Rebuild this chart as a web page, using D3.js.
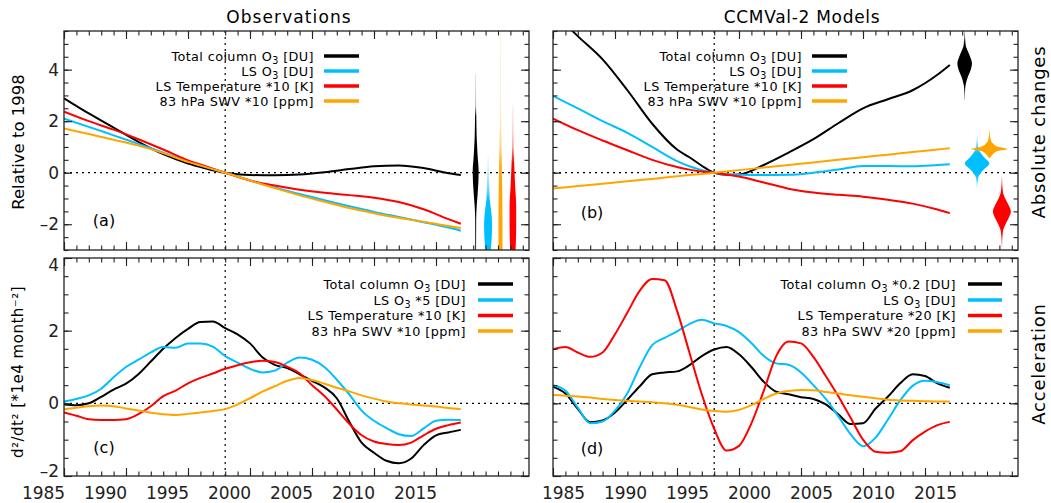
<!DOCTYPE html>
<html>
<head>
<meta charset="utf-8">
<script src="https://cdn.jsdelivr.net/npm/d3@7"></script>
<style>
  body { margin: 0; background: #fff; }
  svg { font-family: "DejaVu Sans", sans-serif; }
</style>
</head>
<body>
<div id="chart"></div>
<script>
// ---- data ----

// x range and ticks
const xDomain = [1985, 2022.5];
const xTickValues = [1985, 1990, 1995, 2000, 2005, 2010, 2015];
const yTickValues = [-2, 0, 2, 4];

// absolute changes (panels a, b)
const yearsAbs = [1985, 1987, 1989, 1991, 1993, 1995, 1996, 1997, 1998, 1999, 2000, 2002, 2004, 2006, 2008, 2010, 2012, 2014, 2016, 2017];
const obsAbsTotal = [2.89, 2.3, 1.75, 1.2, 0.72, 0.36, 0.22, 0.09, 0, -0.06, -0.09, -0.1, -0.07, 0.02, 0.14, 0.25, 0.28, 0.18, -0.02, -0.09];
const obsAbsLsO3  = [2.1, 1.78, 1.45, 1.12, 0.78, 0.44, 0.29, 0.14, 0, -0.15, -0.3, -0.57, -0.83, -1.07, -1.3, -1.52, -1.72, -1.92, -2.13, -2.25];
const obsAbsTemp  = [2.37, 2.0, 1.67, 1.3, 0.9, 0.48, 0.32, 0.16, 0, -0.16, -0.3, -0.5, -0.66, -0.78, -0.87, -0.97, -1.14, -1.42, -1.8, -1.98];
const obsAbsSwv   = [1.72, 1.5, 1.28, 1.05, 0.76, 0.42, 0.28, 0.14, 0, -0.15, -0.3, -0.6, -0.88, -1.13, -1.37, -1.57, -1.75, -1.9, -2.07, -2.15];

const modAbsTotal = [6.25, 5.3, 4.4, 3.2, 1.9, 0.9, 0.6, 0.27, 0, -0.08, -0.07, 0.3, 0.78, 1.3, 1.92, 2.5, 2.85, 3.2, 3.8, 4.18];
const modAbsLsO3  = [2.98, 2.5, 2.0, 1.55, 1.0, 0.45, 0.25, 0.1, 0, -0.06, -0.08, -0.09, -0.08, 0.0, 0.12, 0.26, 0.26, 0.25, 0.3, 0.33];
const modAbsTemp  = [2.1, 1.65, 1.25, 0.87, 0.5, 0.22, 0.12, 0.05, 0, -0.07, -0.15, -0.38, -0.62, -0.77, -0.86, -0.93, -1.05, -1.2, -1.43, -1.57];
const modAbsSwv   = [-0.61, -0.52, -0.43, -0.33, -0.24, -0.14, -0.09, -0.05, 0, 0.05, 0.1, 0.2, 0.3, 0.4, 0.5, 0.6, 0.7, 0.8, 0.9, 0.95];

// acceleration (panels c, d)
const yearsAcc = [1985, 1986, 1987, 1988, 1989, 1990, 1991, 1992, 1993, 1994, 1995, 1996, 1997, 1998, 1999, 2000, 2001,
                  2002, 2003, 2004, 2005, 2006, 2007, 2008, 2009, 2010, 2011, 2012, 2013, 2014, 2015, 2016, 2017];
const obsAccTotal = [-0.03, -0.05, 0.0, 0.18, 0.38, 0.54, 0.8, 1.15, 1.5, 1.8, 2.05, 2.24, 2.25, 2.07, 1.9, 1.65, 1.27,
                     1.06, 0.97, 0.8, 0.62, 0.44, 0.14, -0.5, -1.08, -1.36, -1.58, -1.65, -1.52, -1.15, -0.88, -0.8, -0.73];
const obsAccLsO3  = [0.05, 0.12, 0.22, 0.4, 0.72, 1.0, 1.2, 1.4, 1.55, 1.53, 1.65, 1.65, 1.56, 1.3, 1.12, 0.95, 0.85,
                     0.9, 1.12, 1.26, 1.2, 1.0, 0.65, 0.25, -0.2, -0.48, -0.68, -0.85, -0.9, -0.69, -0.48, -0.45, -0.46];
const obsAccTemp  = [-0.25, -0.34, -0.44, -0.46, -0.46, -0.44, -0.3, -0.08, 0.2, 0.35, 0.55, 0.7, 0.82, 0.95, 1.05, 1.13, 1.17,
                     1.14, 1.01, 0.83, 0.5, 0.2, -0.17, -0.56, -0.88, -1.05, -1.12, -1.15, -1.08, -0.88, -0.7, -0.6, -0.53];
const obsAccSwv   = [-0.16, -0.12, -0.08, -0.06, -0.08, -0.14, -0.2, -0.26, -0.3, -0.32, -0.29, -0.25, -0.21, -0.16, -0.03, 0.14, 0.32,
                     0.47, 0.62, 0.7, 0.64, 0.54, 0.43, 0.33, 0.22, 0.13, 0.05, 0.0, -0.03, -0.06, -0.09, -0.13, -0.16];

const modAccTotal = [0.46, 0.27, -0.15, -0.52, -0.47, -0.25, 0.1, 0.47, 0.8, 0.85, 0.88, 1.05, 1.3, 1.48, 1.55, 1.35, 1.0,
                     0.59, 0.32, 0.25, 0.17, 0.12, -0.03, -0.3, -0.57, -0.55, -0.15, 0.18, 0.55, 0.8, 0.75, 0.55, 0.43];
const modAccLsO3  = [0.5, 0.35, -0.12, -0.55, -0.5, -0.2, 0.28, 1.0, 1.6, 1.8, 1.98, 2.18, 2.3, 2.2, 2.13, 1.96, 1.66,
                     1.3, 1.1, 1.06, 0.85, 0.5, 0.12, -0.35, -0.85, -1.18, -0.95, -0.45, 0.08, 0.48, 0.62, 0.58, 0.5];
const modAccTemp  = [1.49, 1.55, 1.4, 1.28, 1.4, 1.9, 2.5, 3.1, 3.42, 3.39, 2.55, 1.4, 0.25, -0.7, -1.3, -1.17, -0.55,
                     0.35, 1.3, 1.7, 1.65, 1.28, 0.75, 0.2, -0.4, -1.0, -1.33, -1.36, -1.32, -1.02, -0.78, -0.6, -0.51];
const modAccSwv   = [0.23, 0.21, 0.19, 0.16, 0.12, 0.09, 0.07, 0.05, 0.03, 0.0, -0.04, -0.1, -0.17, -0.21, -0.23, -0.18, -0.05,
                     0.12, 0.27, 0.34, 0.37, 0.36, 0.31, 0.27, 0.22, 0.18, 0.14, 0.1, 0.08, 0.07, 0.06, 0.05, 0.05];

// trend distributions at the right of panels a and b: [value, density, opacity]
const violinYears = [2018.2, 2019.2, 2020.2, 2021.2];   // black, blue, orange, red
const obsViolinTotal = [[3.85, 0.015, 0.15], [2.6, 0.02, 0.35], [2.2, 0.03, 1], [1.4, 0.05, 1], [0.76, 0.09, 1], [0, 0.15, 1], [-0.8, 0.1, 1], [-1.3, 0.05, 1], [-1.8, 0.025, 1], [-3, 0.02, 1]];
const obsViolinLsO3  = [[0.7, 0.01, 0.15], [0, 0.04, 0.25], [-0.67, 0.065, 0.6], [-1.06, 0.085, 1], [-1.45, 0.15, 1], [-1.97, 0.2, 1], [-2.48, 0.185, 1], [-3, 0.135, 1]];
const obsViolinSwv   = [[5.5, 0.02, 0.15], [2.4, 0.025, 0.2], [1.0, 0.05, 0.5], [0.36, 0.065, 0.9], [-0.54, 0.085, 1], [-1.84, 0.1, 1], [-3, 0.1, 1]];
const obsViolinTemp  = [[2.65, 0.015, 0.12], [1.6, 0.03, 0.25], [1.0, 0.035, 0.45], [0.36, 0.065, 1], [-0.54, 0.115, 1], [-1.3, 0.165, 1], [-2.1, 0.165, 1], [-3, 0.135, 1]];

const modViolinTotal = [[5.48, 0.01, 0.5], [4.96, 0.05, 1], [4.7, 0.165, 1], [4.44, 0.3, 1], [4.25, 0.365, 1], [3.99, 0.3, 1], [3.73, 0.165, 1], [3.47, 0.065, 1], [3.28, 0.025, 1], [2.82, 0.01, 0.5]];
const modViolinLsO3  = [[1.46, 0.01, 0.3], [0.95, 0.05, 0.8], [0.75, 0.2, 1], [0.56, 0.4, 1], [0.36, 0.615, 1], [0.17, 0.4, 1], [-0.03, 0.165, 1], [-0.22, 0.05, 0.8], [-0.61, 0.01, 0.3]];
const modViolinSwv   = [[1.62, 0.01, 0.8], [1.27, 0.065, 1], [1.14, 0.165, 1], [1.01, 0.415, 1], [0.92, 0.915, 1], [0.84, 0.415, 1], [0.71, 0.165, 1], [0.56, 0.01, 1]];
const modViolinTemp  = [[-0.15, 0.01, 0.4], [-0.74, 0.05, 1], [-1.0, 0.165, 1], [-1.25, 0.335, 1], [-1.51, 0.45, 1], [-1.77, 0.335, 1], [-2.03, 0.165, 1], [-2.29, 0.05, 1], [-2.87, 0.01, 0.5]];

// legend texts ("_3" = subscript)
const legendA = ["Total column O_3 [DU]", "LS O_3 [DU]", "LS Temperature *10 [K]", "83 hPa SWV *10 [ppm]"];
const legendB = ["Total column O_3 [DU]", "LS O_3 [DU]", "LS Temperature *10 [K]", "83 hPa SWV *10 [ppm]"];
const legendC = ["Total column O_3 [DU]", "LS O_3 *5 [DU]", "LS Temperature *10 [K]", "83 hPa SWV *10 [ppm]"];
const legendD = ["Total column O_3 *0.2 [DU]", "LS O_3 [DU]", "LS Temperature *20 [K]", "83 hPa SWV *20 [ppm]"];

// ---- drawing ----
const black = "#000000", blue = "#00bfff", red = "#ff0000", orange = "#ffa500";
const legendColors = [black, blue, red, orange];
const violinColors = [black, blue, orange, red];

const svg = d3.select("#chart")
  .append("svg")
    .attr("width", 1051)
    .attr("height", 503);

const panels = [
  { name: "a", left: 64, right: 529, top: 31, bottom: 250, yDomain: [-3, 5.5], years: yearsAbs,
    series: [obsAbsTotal, obsAbsLsO3, obsAbsTemp, obsAbsSwv], violins: [obsViolinTotal, obsViolinLsO3, obsViolinSwv, obsViolinTemp],
    legend: legendA, legendX: 314, lineX: [324, 359], rows: [56, 71, 86, 101], tag: "(a)", tagPos: [104, 220],
    yLabels: true, xLabels: false },
  { name: "b", left: 553, right: 1018, top: 31, bottom: 250, yDomain: [-3, 5.5], years: yearsAbs,
    series: [modAbsTotal, modAbsLsO3, modAbsTemp, modAbsSwv], violins: [modViolinTotal, modViolinLsO3, modViolinSwv, modViolinTemp],
    legend: legendB, legendX: 802, lineX: [812, 847], rows: [56, 71, 86, 101], tag: "(b)", tagPos: [592, 212],
    yLabels: false, xLabels: false },
  { name: "c", left: 64, right: 529, top: 258, bottom: 476, yDomain: [-2, 4], years: yearsAcc,
    series: [obsAccTotal, obsAccLsO3, obsAccTemp, obsAccSwv], violins: [],
    legend: legendC, legendX: 466, lineX: [478, 513], rows: [284, 300, 315.5, 331], tag: "(c)", tagPos: [104, 447],
    yLabels: true, xLabels: true, labelShift: -21 },
  { name: "d", left: 553, right: 1018, top: 258, bottom: 476, yDomain: [-2, 4], years: yearsAcc,
    series: [modAccTotal, modAccLsO3, modAccTemp, modAccSwv], violins: [],
    legend: legendD, legendX: 956, lineX: [968, 1002], rows: [284, 300, 315.5, 331], tag: "(d)", tagPos: [592, 448],
    yLabels: false, xLabels: true, labelShift: 10 }
];

function richText(sel, str) {
  str.split(/(_\d)/).forEach(function(part) {
    if (!part) return;
    if (part[0] === "_") {
      sel.append("tspan").attr("baseline-shift", "-25%").attr("font-size", "75%").text(part.slice(1));
    } else {
      sel.append("tspan").text(part);
    }
  });
}

const fmt = d => d < 0 ? "\u2013" + Math.abs(d) : String(d);

panels.forEach(function(p) {
  const x = d3.scaleLinear().domain(xDomain).range([p.left, p.right]);
  const y = d3.scaleLinear().domain(p.yDomain).range([p.bottom, p.top]);
  const w = d3.scaleLinear().domain([0, 1]).range([0, 20]);

  svg.append("clipPath").attr("id", "clip-" + p.name)
    .append("rect")
      .attr("x", p.left).attr("y", p.top)
      .attr("width", p.right - p.left).attr("height", p.bottom - p.top);

  const plot = svg.append("g").attr("clip-path", `url(#clip-${p.name})`);

  // dotted reference lines
  plot.append("line")
    .attr("x1", p.left).attr("x2", p.right)
    .attr("y1", y(0)).attr("y2", y(0))
    .attr("stroke", "#000").attr("stroke-width", 1.2).attr("stroke-dasharray", "2,4");
  plot.append("line")
    .attr("x1", x(1998)).attr("x2", x(1998))
    .attr("y1", p.top).attr("y2", p.bottom)
    .attr("stroke", "#000").attr("stroke-width", 1.2).attr("stroke-dasharray", "2,4");

  // violins
  p.violins.forEach(function(v, i) {
    const cx = x(violinYears[i]);
    const gid = "grad-" + p.name + i;
    const y1 = y(v[0][0]), y2 = y(v[v.length - 1][0]);
    const grad = svg.append("defs").append("linearGradient")
      .attr("id", gid).attr("gradientUnits", "userSpaceOnUse")
      .attr("x1", 0).attr("x2", 0).attr("y1", y1).attr("y2", y2);
    v.forEach(function(d) {
      grad.append("stop")
        .attr("offset", (y(d[0]) - y1) / (y2 - y1))
        .attr("stop-color", violinColors[i])
        .attr("stop-opacity", d[2]);
    });
    const area = d3.area()
      .curve(d3.curveMonotoneY)
      .y(d => y(d[0]))
      .x0(d => cx - w(d[1]))
      .x1(d => cx + w(d[1]));
    plot.append("path").datum(v).attr("d", area).attr("fill", `url(#${gid})`);
  });

  // series lines
  const line = d3.line()
    .curve(d3.curveMonotoneX)
    .x(d => x(d[0]))
    .y(d => y(d[1]));
  p.series.forEach(function(vals, k) {
    plot.append("path")
      .datum(vals.map((v, j) => [p.years[j], v]))
      .attr("d", line)
      .attr("fill", "none")
      .attr("stroke", legendColors[k])
      .attr("stroke-width", 2);
  });

  // axes (ticks inward on all four sides)
  const yMinor = d3.range(p.yDomain[0], p.yDomain[1] + 0.01, 0.5);
  const xMinor = d3.range(1985, 2023, 1);

  function styleAxis(g) {
    g.select(".domain").remove();
    g.attr("color", "#222").attr("font-family", "DejaVu Sans, sans-serif").attr("font-size", 17);
    g.selectAll("line").attr("stroke-width", 1.1);
  }

  svg.append("g").attr("transform", `translate(0,${p.bottom})`)
    .call(d3.axisBottom(x).tickValues(xMinor).tickSize(-4.5).tickFormat("")).call(styleAxis);
  const bottomAxis = svg.append("g").attr("transform", `translate(0,${p.bottom})`)
    .call(d3.axisBottom(x).tickValues(xTickValues).tickSize(-8).tickPadding(11)
      .tickFormat(p.xLabels ? d3.format("d") : ""))
    .call(styleAxis);
  bottomAxis.selectAll("text").attr("dx", p.labelShift || 0);

  svg.append("g").attr("transform", `translate(0,${p.top})`)
    .call(d3.axisTop(x).tickValues(xMinor).tickSize(-4.5).tickFormat("")).call(styleAxis);
  svg.append("g").attr("transform", `translate(0,${p.top})`)
    .call(d3.axisTop(x).tickValues(xTickValues).tickSize(-8).tickFormat("")).call(styleAxis);

  svg.append("g").attr("transform", `translate(${p.left},0)`)
    .call(d3.axisLeft(y).tickValues(yMinor).tickSize(-4.5).tickFormat("")).call(styleAxis);
  const leftAxis = svg.append("g").attr("transform", `translate(${p.left},0)`)
    .call(d3.axisLeft(y).tickValues(yTickValues).tickSize(-8).tickPadding(5)
      .tickFormat(p.yLabels ? fmt : ""))
    .call(styleAxis);
  // labels sitting on the frame corners are pulled inside, as in the original
  leftAxis.selectAll("text")
    .attr("dy", d => d === p.yDomain[1] ? "0.75em" : d === p.yDomain[0] ? "0.05em" : "0.32em");

  svg.append("g").attr("transform", `translate(${p.right},0)`)
    .call(d3.axisRight(y).tickValues(yMinor).tickSize(-4.5).tickFormat("")).call(styleAxis);
  svg.append("g").attr("transform", `translate(${p.right},0)`)
    .call(d3.axisRight(y).tickValues(yTickValues).tickSize(-8).tickFormat("")).call(styleAxis);

  // frame
  svg.append("rect")
    .attr("x", p.left).attr("y", p.top)
    .attr("width", p.right - p.left).attr("height", p.bottom - p.top)
    .attr("fill", "none").attr("stroke", "#222").attr("stroke-width", 1.3);

  // legend
  p.legend.forEach(function(label, i) {
    const t = svg.append("text")
      .attr("x", p.legendX).attr("y", p.rows[i] + 4.7)
      .attr("text-anchor", "end")
      .attr("font-size", 12.8)
      .attr("letter-spacing", 0.4)
      .attr("fill", "#000");
    richText(t, label);
    svg.append("line")
      .attr("x1", p.lineX[0]).attr("x2", p.lineX[1])
      .attr("y1", p.rows[i]).attr("y2", p.rows[i])
      .attr("stroke", legendColors[i]).attr("stroke-width", 3.5);
  });

  // panel tag
  svg.append("text")
    .attr("x", p.tagPos[0]).attr("y", p.tagPos[1])
    .attr("text-anchor", "middle").attr("dominant-baseline", "central")
    .attr("font-size", 16)
    .text(p.tag);
});

// titles and side labels
svg.append("text").attr("x", 289).attr("y", 17).attr("text-anchor", "middle").attr("dominant-baseline", "central")
  .attr("font-size", 17).attr("letter-spacing", 1.1).text("Observations");
svg.append("text").attr("x", 802).attr("y", 17).attr("text-anchor", "middle").attr("dominant-baseline", "central")
  .attr("font-size", 17).attr("letter-spacing", 0.7).text("CCMVal-2 Models");

function sideLabel(txt, cx, cy, size, spacing) {
  svg.append("text")
    .attr("transform", `translate(${cx},${cy}) rotate(-90)`)
    .attr("text-anchor", "middle").attr("dominant-baseline", "central")
    .attr("font-size", size).attr("letter-spacing", spacing)
    .text(txt);
}
sideLabel("Relative to 1998", 18, 142, 16.5, 0);
sideLabel("d\u00b2/dt\u00b2 [*1e4 month\u207b\u00b2]", 18, 372, 15, 0.5);
sideLabel("Absolute changes", 1038, 132, 18, 0.8);
sideLabel("Acceleration", 1038, 364, 18, 0.8);
</script>
</body>
</html>
